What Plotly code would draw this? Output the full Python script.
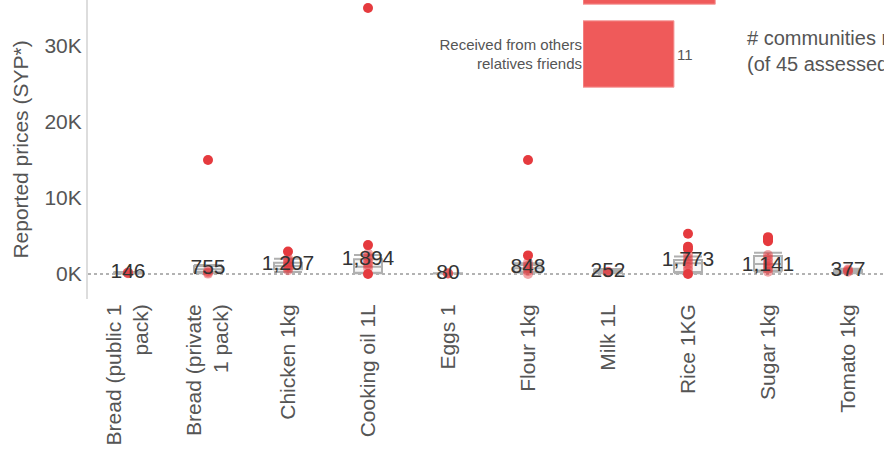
import plotly.graph_objects as go

# ---------------- data ----------------
items = ["Bread (public 1 pack)", "Bread (private 1 pack)", "Chicken 1kg", "Cooking oil 1L",
         "Eggs 1", "Flour 1kg", "Milk 1L", "Rice 1KG", "Sugar 1kg", "Tomato 1kg"]
tick_labels = ["Bread (public 1<br>pack)", "Bread (private<br>1 pack)", "Chicken 1kg", "Cooking oil 1L",
               "Eggs 1", "Flour 1kg", "Milk 1L", "Rice 1KG", "Sugar 1kg", "Tomato 1kg"]

# value shown on each item (SYP)
label_values = [146, 755, 1207, 1894, 80, 848, 252, 1773, 1141, 377]

# box statistics (SYP)
q1_vals = [100, 260, 620, 170, 60, 300, 150, 250, 460, 170]
median_vals = [146, 620, 1050, 960, 80, 750, 252, 1400, 1300, 377]
q3_vals = [200, 1050, 1490, 1930, 100, 1180, 550, 1850, 2370, 530]
lower_vals = [50, 100, 260, 100, 50, 200, 100, 100, 300, 100]
upper_vals = [250, 1200, 2000, 2500, 110, 1400, 650, 2300, 2800, 700]

# reported prices per item (SYP): typical reports and flagged reports
typical_prices = [
    [100, 146, 150, 200],
    [50, 200, 400],
    [500, 800, 1000, 1200, 1500, 1800, 2100],
    [800, 1200, 1500, 1900, 2300, 2700],
    [60, 80, 100],
    [0, 400, 800, 1100, 1500],
    [200, 252, 300],
    [500, 900, 1300, 1700, 2100, 2600],
    [300, 700, 1000, 1300, 1700, 2100, 2500],
    [300, 450, 600],
]
flagged_prices = [
    [],
    [15000],
    [2950],
    [0, 3800, 35000],
    [],
    [2450, 15000],
    [],
    [0, 3300, 3600, 5300],
    [4300, 4500, 4700, 4850],
    [],
]

y_ticks = [0, 10000, 20000, 30000]
y_tick_text = ["0K", "10K", "20K", "30K"]

# inset bar chart: sources
source_names = ["Received from others<br>relatives friends", "Purchased from markets"]
source_counts = [11, 16]

FONT = "Liberation Sans, Arial, Helvetica, sans-serif"
RED = "#e53a3e"
PINK = "rgba(229,58,62,0.45)"
GREY_TXT = "#555555"

fig = go.Figure()

# typical points
px, py = [], []
for it, vals in zip(items, typical_prices):
    px += [it] * len(vals)
    py += vals
fig.add_trace(go.Scatter(x=px, y=py, mode="markers",
                         marker=dict(size=10, color=PINK, line=dict(width=0)),
                         hoverinfo="y", showlegend=False))

# flagged points
fx, fy = [], []
for it, vals in zip(items, flagged_prices):
    fx += [it] * len(vals)
    fy += vals
fig.add_trace(go.Scatter(x=fx, y=fy, mode="markers",
                         marker=dict(size=10, color=RED, line=dict(width=0)),
                         hoverinfo="y", showlegend=False))

# boxes
fig.add_trace(go.Box(x=items, q1=q1_vals, median=median_vals, q3=q3_vals,
                     lowerfence=lower_vals, upperfence=upper_vals,
                     line=dict(color="#b0b0b0", width=2),
                     fillcolor="rgba(240,240,240,0.6)",
                     whiskerwidth=1, boxpoints=False, showlegend=False))

# value labels
fig.add_trace(go.Scatter(x=items, y=label_values, mode="text",
                         text=[f"{v:,}" for v in label_values],
                         textposition="middle center",
                         textfont=dict(size=21, color="#333333", family=FONT),
                         cliponaxis=False, hoverinfo="skip", showlegend=False))

# inset bars
fig.add_trace(go.Bar(x=source_counts, y=source_names, orientation="h",
                     xaxis="x2", yaxis="y2",
                     marker=dict(color="#ef5a5a", line=dict(color="#f59a9a", width=1)),
                     text=source_counts, textposition="outside", constraintext="none",
                     textfont=dict(size=15, color=GREY_TXT, family=FONT),
                     cliponaxis=True, showlegend=False))

fig.add_shape(type="line", xref="paper", x0=0, x1=1, yref="y", y0=0, y1=0,
              line=dict(color="#666666", width=1, dash="dot"), layer="below")

fig.add_annotation(xref="paper", yref="paper", x=0.8254, y=0.8278,
                   xanchor="left", yanchor="middle", align="left", showarrow=False,
                   text="# communities reporting<br>(of 45 assessed)",
                   font=dict(size=20, color=GREY_TXT, family=FONT))

fig.update_layout(
    width=884, height=451,
    margin=dict(l=88, r=0, t=0, b=152),
    paper_bgcolor="white", plot_bgcolor="white",
    font=dict(family=FONT, color=GREY_TXT),
    showlegend=False, boxgap=0.5, bargap=0.2,
    xaxis=dict(type="category", categoryorder="array", categoryarray=items,
               tickmode="array", tickvals=items, ticktext=tick_labels,
               range=[-0.5, 9.45], tickangle=-90,
               tickfont=dict(size=21, color=GREY_TXT, family=FONT),
               showgrid=False, zeroline=False, showline=False, ticks=""),
    yaxis=dict(range=[-3289, 36053], tickmode="array", tickvals=y_ticks, ticktext=y_tick_text,
               tickfont=dict(size=21, color=GREY_TXT, family=FONT),
               title=dict(text="Reported prices (SYP*)", standoff=10,
                          font=dict(size=21, color=GREY_TXT, family=FONT)),
               showgrid=False, zeroline=False, showline=True, linecolor="#dddddd", linewidth=2,
               ticks=""),
    xaxis2=dict(domain=[0.6219, 0.8254], anchor="y2", range=[0, 19.6], visible=False),
    yaxis2=dict(domain=[0.5987, 1.0], anchor="x2", type="category",
                categoryorder="array", categoryarray=source_names,
                range=[-0.795, 0.6506], showgrid=False, zeroline=False, showline=False,
                ticks="", tickfont=dict(size=15, color=GREY_TXT, family=FONT)),
)

fig.write_html("out.html", config={"displayModeBar": False},
               post_script="document.body.style.margin='0';document.body.style.overflow='hidden';")
